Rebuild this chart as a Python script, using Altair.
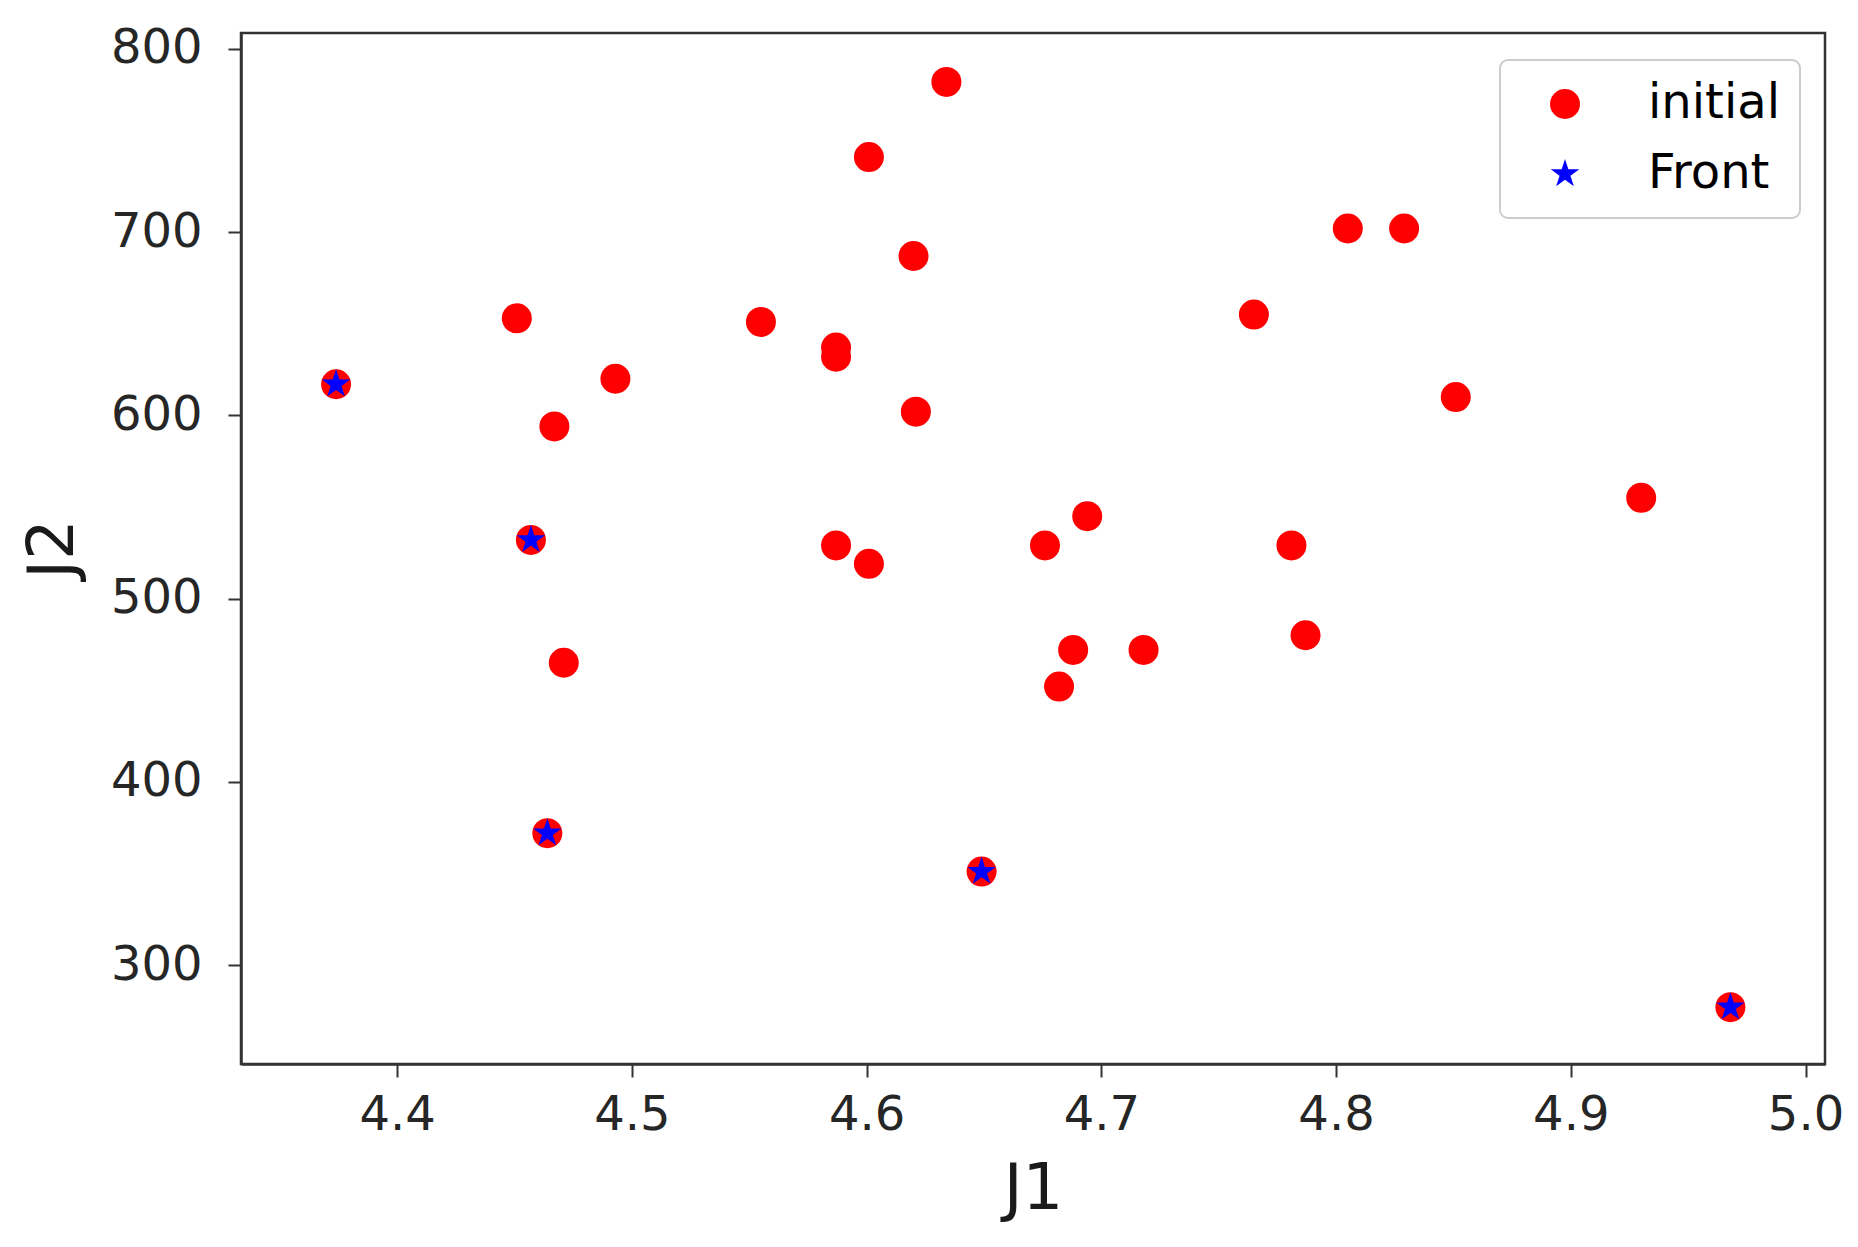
import altair as alt
import pandas as pd

# J1 / J2 values of the initial population
j1_initial = [4.634, 4.601, 4.620, 4.805, 4.829, 4.765, 4.451, 4.555, 4.587, 4.587,
              4.493, 4.374, 4.467, 4.621, 4.851, 4.930, 4.694, 4.457, 4.587, 4.601,
              4.676, 4.781, 4.787, 4.688, 4.718, 4.682, 4.471, 4.464, 4.649, 4.968]
j2_initial = [782, 741, 687, 702, 702, 655, 653, 651, 637, 632,
              620, 617, 594, 602, 610, 555, 545, 532, 529, 519,
              529, 529, 480, 472, 472, 452, 465, 372, 351, 277]

# Front points
j1_front = [4.374, 4.457, 4.464, 4.649, 4.968]
j2_front = [617, 532, 372, 351, 277]

series_names = ["initial", "Front"]
x_ticks = [4.4, 4.5, 4.6, 4.7, 4.8, 4.9, 5.0]
y_ticks = [300, 400, 500, 600, 700, 800]

rows = []
for a, b in zip(j1_initial, j2_initial):
    rows.append({"J1": a, "J2": b, "series": "initial"})
for a, b in zip(j1_front, j2_front):
    rows.append({"J1": a, "J2": b, "series": "Front"})
df = pd.DataFrame(rows)

STAR = ("M0,-1L0.2245,-0.309L0.951,-0.309L0.3633,0.118L0.5878,0.809"
        "L0,0.382L-0.5878,0.809L-0.3633,0.118L-0.951,-0.309L-0.2245,-0.309Z")

legend = alt.Legend(
    title=None, orient="none", legendX=1259, legendY=27,
    padding=20, strokeColor="#cccccc", cornerRadius=8,
    fillColor="white", labelFontSize=48, labelColor="black",
    labelFont="DejaVu Sans", symbolSize=900, symbolOffset=21,
    labelOffset=59, rowPadding=22, symbolStrokeWidth=0,
)

chart = alt.Chart(df).mark_point(filled=True, size=900, opacity=1).encode(
    x=alt.X("J1:Q", title="J1",
            scale=alt.Scale(domain=[4.3335, 5.0083], nice=False, zero=False),
            axis=alt.Axis(values=x_ticks, format=".1f", labelPadding=14,
                          titlePadding=18)),
    y=alt.Y("J2:Q", title="J2",
            scale=alt.Scale(domain=[246, 808.7], nice=False, zero=False),
            axis=alt.Axis(values=y_ticks, format="d", labelPadding=26,
                          titlePadding=25)),
    color=alt.Color("series:N",
                    scale=alt.Scale(domain=series_names, range=["#ff0000", "#0000ff"]),
                    legend=legend),
    shape=alt.Shape("series:N",
                    scale=alt.Scale(domain=series_names, range=["circle", STAR]),
                    legend=legend),
).properties(
    width=1584, height=1031,
    autosize=alt.AutoSizeParams(type="none"),
    padding={"left": 233, "top": 25, "right": 25, "bottom": 170},
).configure_view(
    stroke="#333333", strokeWidth=2.5
).configure_legend(
    strokeWidth=2
).configure_axis(
    grid=False, domainColor="#333333", domainWidth=2.5,
    tickColor="#333333", tickWidth=2, tickSize=13,
    labelFont="DejaVu Sans", labelFontSize=48, labelColor="#262626",
    titleFont="DejaVu Sans", titleFontSize=64, titleFontWeight="normal",
    titleColor="#1a1a1a",
)

chart.save("out.html", embed_options={"renderer": "svg", "actions": False})
